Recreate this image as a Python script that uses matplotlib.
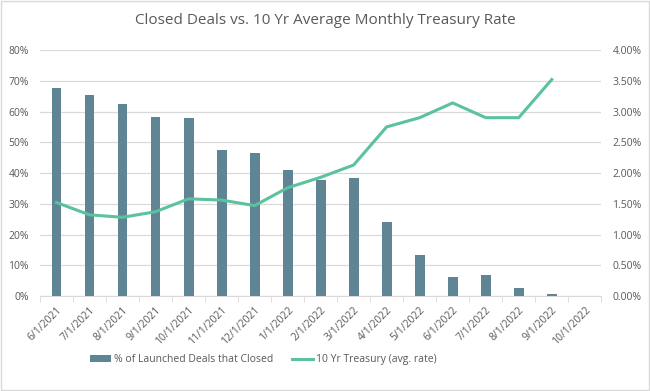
import matplotlib
matplotlib.use("Agg")
import matplotlib.pyplot as plt
import numpy as np
from matplotlib.ticker import FuncFormatter, FixedLocator
from matplotlib.patches import Rectangle

plt.rcParams["font.family"] = ["Open Sans", "DejaVu Sans"]

# Data
dates = ["6/1/2021", "7/1/2021", "8/1/2021", "9/1/2021", "10/1/2021", "11/1/2021",
         "12/1/2021", "1/1/2022", "2/1/2022", "3/1/2022", "4/1/2022", "5/1/2022",
         "6/1/2022", "7/1/2022", "8/1/2022", "9/1/2022", "10/1/2022"]
closed_pct = [67.6, 65.4, 62.4, 58.2, 57.9, 47.5, 46.5, 41.0, 37.8, 38.4,
              24.1, 13.3, 6.2, 6.8, 2.6, 0.7, 0.0]
treasury = [1.52, 1.32, 1.28, 1.37, 1.58, 1.56, 1.47, 1.76, 1.93, 2.13,
            2.75, 2.90, 3.14, 2.90, 2.90, 3.52, np.nan]

BAR_COLOR = "#5F8493"
LINE_COLOR = "#5BC29E"
GRID_COLOR = "#D9D9D9"
TEXT_COLOR = "#595959"

fig = plt.figure(figsize=(6.5, 3.91), dpi=100)
fig.patches.append(Rectangle((0.002, 0.003), 0.996, 0.994, transform=fig.transFigure,
                             fill=False, edgecolor="#D9D9D9", linewidth=1))
ax = fig.add_axes([0.0615, 0.243, 0.8635, 0.629])
ax2 = ax.twinx()

x = np.arange(len(dates))
bars = ax.bar(x, closed_pct, width=0.3, color=BAR_COLOR, zorder=3,
              label="% of Launched Deals that Closed")
line, = ax2.plot(x, treasury, color=LINE_COLOR, linewidth=2.2,
                 label="10 Yr Treasury (avg. rate)")

ax.set_xlim(-0.5, len(dates) - 0.5)
ax.set_ylim(0, 80)
ax2.set_ylim(0, 4)
ax.set_yticks(np.arange(0, 81, 10))
ax2.set_yticks(np.arange(0, 4.01, 0.5))
ax.yaxis.set_major_formatter(FuncFormatter(lambda v, p: f"{v:.0f}%"))
ax2.yaxis.set_major_formatter(FuncFormatter(lambda v, p: f"{v:.2f}%"))
ax.grid(axis="y", color=GRID_COLOR, linewidth=0.9, zorder=0)
ax.set_axisbelow(True)

ax.set_xticks(x)
ax.set_xticklabels(dates, rotation=45, ha="right", rotation_mode="anchor")
ax.xaxis.set_minor_locator(FixedLocator(np.arange(-0.5, len(dates), 1)))
ax.tick_params(axis="x", which="major", length=0, pad=6, labelsize=7.5, colors=TEXT_COLOR)
ax.tick_params(axis="x", which="minor", length=4, color=GRID_COLOR)
ax.tick_params(axis="y", length=0, labelsize=7.5, colors=TEXT_COLOR, pad=8)
ax2.tick_params(axis="y", length=0, labelsize=7.5, colors=TEXT_COLOR, pad=8)

for a in (ax, ax2):
    for s in ["top", "right", "left"]:
        a.spines[s].set_visible(False)
    a.spines["bottom"].set_color(GRID_COLOR)
ax2.spines["bottom"].set_visible(False)

fig.text(0.5, 0.948, "Closed Deals vs. 10 Yr Average Monthly Treasury Rate",
         ha="center", va="center", fontsize=11, color=TEXT_COLOR)

fig.legend(handles=[bars, line], loc="center", bbox_to_anchor=(0.405, 0.08),
           ncol=2, frameon=False, fontsize=7.5, labelcolor=TEXT_COLOR,
           handlelength=2.0, columnspacing=1.8, handletextpad=0.3)

fig.savefig("out.png", dpi=100, facecolor="white")
